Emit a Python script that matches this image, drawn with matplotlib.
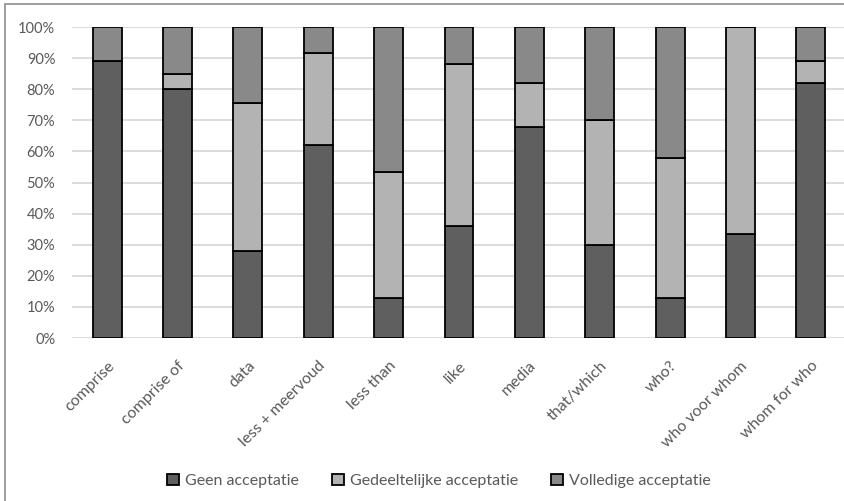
import matplotlib.pyplot as plt
from matplotlib.patches import Rectangle
import numpy as np

plt.rcParams['font.family'] = ['Lato', 'DejaVu Sans']

categories = ['comprise', 'comprise of', 'data', 'less + meervoud', 'less than',
              'like', 'media', 'that/which', 'who?', 'who voor whom', 'whom for who']
geen = [89, 80, 28, 62, 13, 36, 68, 30, 13, 33.5, 82]
gedeeltelijk = [0, 5, 47.5, 29.5, 40.5, 52, 14, 40, 45, 66.5, 7]
volledig = [11, 15, 24.5, 8.5, 46.5, 12, 18, 30, 42, 0, 11]
series_names = ['Geen acceptatie', 'Gedeeltelijke acceptatie', 'Volledige acceptatie']
colors = ['#5f5f5f', '#b3b3b3', '#898989']

W, H = 845, 501
fig = plt.figure(figsize=(W / 100, H / 100), dpi=100)
ax = fig.add_axes([72 / W, (H - 338) / H, (846 - 72) / W, 311 / H])

x = np.arange(len(categories))
bottom = np.zeros(len(categories))
for vals, name, col in zip([geen, gedeeltelijk, volledig], series_names, colors):
    vals = np.array(vals, dtype=float)
    ax.bar(x, vals, 0.41, bottom=bottom, color=col, edgecolor='black',
           linewidth=1.3, label=name, zorder=3)
    bottom += vals

ax.set_xlim(-0.5, len(categories) - 0.5)
ax.set_ylim(0, 100)
ax.set_yticks(np.arange(0, 101, 10))
ax.set_yticklabels([f'{v}%' for v in range(0, 101, 10)])
ax.set_xticks(x)
ax.set_xticklabels(categories, rotation=45, ha='right', va='top', rotation_mode='anchor')
ax.tick_params(axis='both', length=0, labelcolor='#595959')
ax.tick_params(axis='y', pad=12, labelsize=10.5)
ax.tick_params(axis='x', pad=15, labelsize=11.5)
ax.grid(axis='y', color='#d9d9d9', linewidth=1.3, zorder=0)
for s in ax.spines.values():
    s.set_visible(False)

fig.legend(loc='center', bbox_to_anchor=(439 / W, 1 - 481 / H), ncol=3, frameon=False,
           fontsize=11.5, labelcolor='#595959', handlelength=0.75, handleheight=0.75,
           handletextpad=0.35, columnspacing=2.1)

# outer chart border
fig.patches.append(Rectangle((5 / W, -0.1), 1.2, 1 - 4 / H + 0.1, transform=fig.transFigure,
                             fill=False, edgecolor='#8c8c8c', linewidth=1.2))

fig.savefig('out.png', dpi=100)
